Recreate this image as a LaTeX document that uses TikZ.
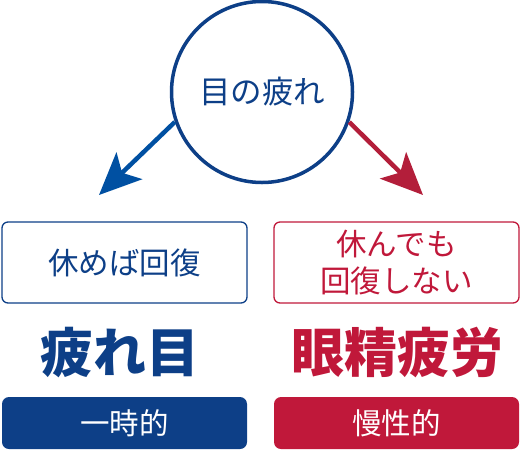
\documentclass[tikz,border=0pt]{standalone}
\usepackage{fontspec}
\setmainfont{Noto Sans CJK JP}
\usetikzlibrary{arrows.meta}

\definecolor{navy}{HTML}{0D3F87}
\definecolor{arrowblue}{HTML}{0050A2}
\definecolor{crimson}{HTML}{C0183A}
\definecolor{arrowred}{HTML}{B31E3A}

\tikzset{
    outlinebox/.style={draw, line width=1.3, rounded corners=6pt, minimum width=245pt, minimum height=81pt, align=center, font=\fontsize{30.5}{37}\selectfont},
    filledbox/.style={rounded corners=7pt, minimum width=245pt, minimum height=52pt, text=white, font=\fontsize{29.5}{30}\selectfont},
    bigword/.style={font=\bfseries\fontsize{53}{54}\selectfont},
    bigarrow/.style={line width=4.5pt, -{Stealth[length=42pt, width=37pt, inset=10pt]}}
}

\begin{document}
\begin{tikzpicture}[x=1pt, y=-1pt]

    \useasboundingbox (0,0) rectangle (521,451);

    \node[circle, draw=navy, line width=3.5pt, minimum size=181pt, text=navy, font=\fontsize{31.5}{32}\selectfont] (eye) at (262,92) {目の疲れ};

    \coordinate (lefttip) at (99,195);
    \coordinate (righttip) at (423,195);

    \draw[bigarrow, arrowblue] (eye.199) -- (lefttip);
    \draw[bigarrow, arrowred] (eye.-19) -- (righttip);

    \node[outlinebox, draw=navy, text=navy] (rest) at (124.5,262.5) {休めば回復};
    \node[outlinebox, draw=crimson, text=crimson] (norest) at (396.5,262.5) {休んでも\\回復しない};

    \node[bigword, text=navy] (tiredeye) at (120,353) {疲れ目};
    \node[bigword, text=crimson] (eyestrain) at (397,353) {眼精疲労};

    \node[filledbox, fill=navy] (temporary) at (124.5,423) {一時的};
    \node[filledbox, fill=crimson] (chronic) at (396.5,423) {慢性的};

\end{tikzpicture}
\end{document}
